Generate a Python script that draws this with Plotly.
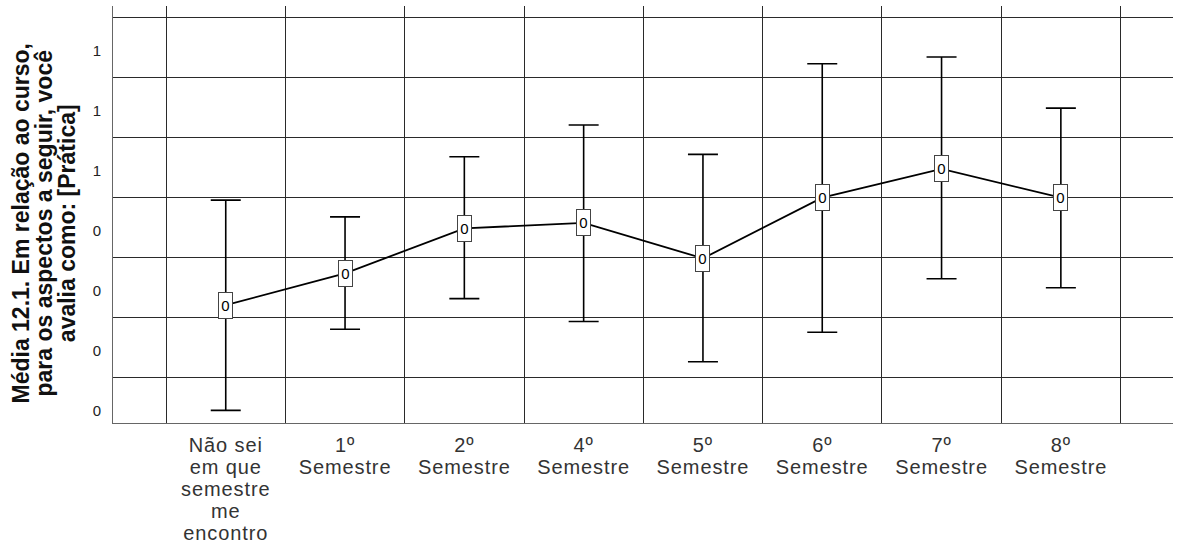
import math
import plotly.graph_objects as go

# ---------------- data ----------------
categories = [
    "Não sei em que semestre me encontro",
    "1º Semestre",
    "2º Semestre",
    "4º Semestre",
    "5º Semestre",
    "6º Semestre",
    "7º Semestre",
    "8º Semestre",
]
category_labels = [
    "Não sei<br>em que<br>semestre<br>me<br>encontro",
    "1º<br>Semestre",
    "2º<br>Semestre",
    "4º<br>Semestre",
    "5º<br>Semestre",
    "6º<br>Semestre",
    "7º<br>Semestre",
    "8º<br>Semestre",
]
means = [0.221, 0.274, 0.349, 0.358, 0.299, 0.400, 0.448, 0.400]
ci_upper = [0.396, 0.368, 0.468, 0.521, 0.472, 0.623, 0.634, 0.549]
ci_lower = [0.046, 0.181, 0.232, 0.194, 0.127, 0.176, 0.265, 0.250]
y_ticks = [0.1, 0.2, 0.3, 0.4, 0.5, 0.6, 0.7]
y_title = "Média 12.1. Em relação ao curso,<br>para os aspectos a seguir, você<br>avalia como: [Prática]"


def fmt0(v):
    # SPSS style: zero decimals, half up
    return str(int(math.floor(v + 0.5 + 1e-9)))


def styled_lines(text, style):
    return "<br>".join(f"<span style='{style}'>{l}</span>" for l in text.split("<br>"))


FONT = "Liberation Sans, Arial, sans-serif"
LINE = "#2a2a2a"

fig = go.Figure()
fig.add_trace(go.Scatter(
    x=categories,
    y=means,
    mode="lines",
    line=dict(color="black", width=1.8),
    error_y=dict(
        type="data",
        symmetric=False,
        array=[u - m for u, m in zip(ci_upper, means)],
        arrayminus=[m - l for m, l in zip(means, ci_lower)],
        color="black",
        thickness=1.6,
        width=15,
    ),
    showlegend=False,
    hoverinfo="skip",
))

# value labels in boxes
for c, m in zip(categories, means):
    fig.add_annotation(
        x=c, y=m, xref="x", yref="y",
        text=fmt0(m), showarrow=False,
        font=dict(family=FONT, size=15, color="black"),
        bgcolor="white", bordercolor="#444444", borderwidth=1,
        borderpad=0, width=13, height=25,
        xanchor="center", yanchor="middle",
    )

# y-axis title
fig.add_annotation(
    x=0, y=0.5, xref="paper", yref="paper",
    text=styled_lines("<b>" + y_title.replace("<br>", "</b><br><b>") + "</b>", "font-size:23px"),
    textangle=-90, showarrow=False,
    font=dict(family=FONT, size=18, color="#111111"),
    xanchor="center", yanchor="middle",
    xshift=-69, yshift=-9,
)

fig.update_layout(
    width=1181, height=550,
    margin=dict(l=113, r=8, t=6, b=127, autoexpand=False),
    paper_bgcolor="white", plot_bgcolor="white",
    xaxis=dict(
        type="category",
        categoryorder="array", categoryarray=categories,
        tickvals=categories,
        ticktext=[styled_lines(t, "font-size:20px;letter-spacing:0.9px") for t in category_labels],
        range=[-0.945, 7.94],
        tickson="boundaries",
        showgrid=True, gridcolor=LINE, gridwidth=1.2,
        ticks="", showline=True, linecolor="#666666", linewidth=1,
        ticklabelstandoff=8,
        tickfont=dict(family=FONT, size=16.8, color="#333333"),
        automargin=False, fixedrange=True,
    ),
    yaxis=dict(
        range=[0.025, 0.719],
        tickvals=y_ticks,
        ticktext=[fmt0(v) for v in y_ticks],
        showgrid=True, gridcolor=LINE, gridwidth=1.2,
        zeroline=False,
        ticks="", showline=True, linecolor="#666666", linewidth=1,
        ticklabelshift=33, ticklabelstandoff=8,
        tickfont=dict(family=FONT, size=15, color="#222222"),
        automargin=False, fixedrange=True,
    ),
)

fig.write_html("out.html")
